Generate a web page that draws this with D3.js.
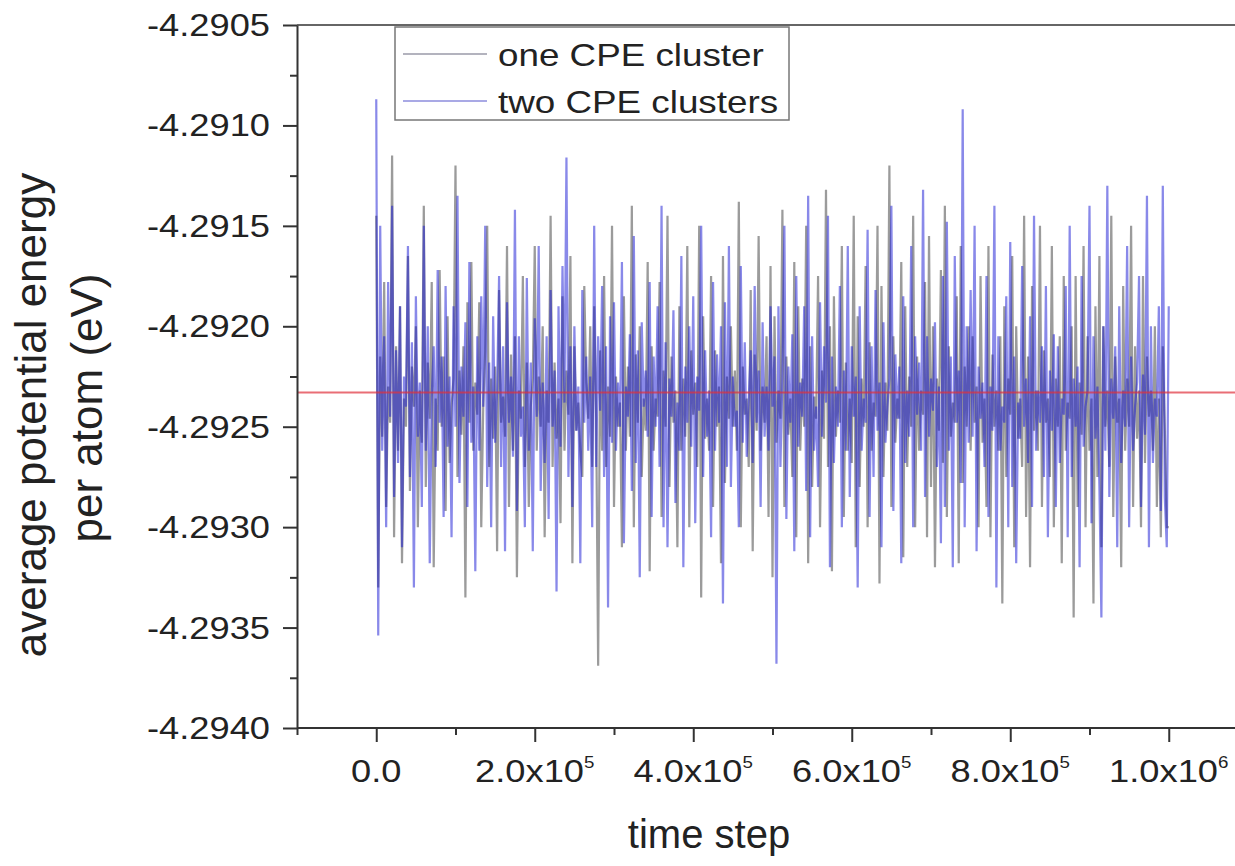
<!DOCTYPE html>
<html>
<head>
<meta charset="utf-8">
<script src="https://cdn.jsdelivr.net/npm/d3@7"></script>
<style>
  body { margin: 0; background: #fff; }
  svg { display: block; font-family: Arial, "Liberation Sans", sans-serif; }
</style>
</head>
<body>
<div id="chart"></div>
<script>
const stepSize = 2500
const timeSteps = d3.range(0, 1000001, stepSize)

const oneCluster = [
  -4.29145, -4.29330, -4.29215, -4.29255, -4.29178, -4.29290, -4.29230, -4.29248, -4.29115, -4.29305,
  -4.29210, -4.29262, -4.29190, -4.29318, -4.29236, -4.29250, -4.29165, -4.29282, -4.29220, -4.29240,
  -4.29200, -4.29300, -4.29232, -4.29258, -4.29140, -4.29280, -4.29218, -4.29246, -4.29178, -4.29320,
  -4.29236, -4.29262, -4.29172, -4.29250, -4.29215, -4.29292, -4.29195, -4.29268, -4.29240, -4.29226,
  -4.29120, -4.29275, -4.29222, -4.29254, -4.29210, -4.29335, -4.29188, -4.29248, -4.29168, -4.29262,
  -4.29228, -4.29244, -4.29188, -4.29300, -4.29240, -4.29212, -4.29150, -4.29270, -4.29226, -4.29256,
  -4.29220, -4.29312, -4.29182, -4.29248, -4.29235, -4.29255, -4.29160, -4.29290, -4.29214, -4.29262,
  -4.29205, -4.29325, -4.29232, -4.29246, -4.29175, -4.29270, -4.29218, -4.29290, -4.29240, -4.29226,
  -4.29160, -4.29262, -4.29225, -4.29250, -4.29200, -4.29305, -4.29232, -4.29248, -4.29145, -4.29270,
  -4.29218, -4.29256, -4.29236, -4.29298, -4.29185, -4.29262, -4.29222, -4.29244, -4.29165, -4.29318,
  -4.29210, -4.29252, -4.29238, -4.29262, -4.29275, -4.29180, -4.29228, -4.29246, -4.29200, -4.29270,
  -4.29190, -4.29245, -4.29369, -4.29212, -4.29262, -4.29175, -4.29270, -4.29230, -4.29255, -4.29150,
  -4.29290, -4.29225, -4.29250, -4.29238, -4.29310, -4.29185, -4.29262, -4.29220, -4.29255, -4.29140,
  -4.29300, -4.29214, -4.29248, -4.29200, -4.29275, -4.29236, -4.29252, -4.29168, -4.29322, -4.29210,
  -4.29262, -4.29236, -4.29245, -4.29178, -4.29295, -4.29222, -4.29250, -4.29145, -4.29280, -4.29215,
  -4.29248, -4.29232, -4.29310, -4.29190, -4.29262, -4.29226, -4.29255, -4.29160, -4.29300, -4.29212,
  -4.29244, -4.29228, -4.29270, -4.29150, -4.29335, -4.29195, -4.29256, -4.29236, -4.29262, -4.29175,
  -4.29290, -4.29212, -4.29250, -4.29230, -4.29318, -4.29165, -4.29278, -4.29225, -4.29246, -4.29200,
  -4.29250, -4.29222, -4.29262, -4.29138, -4.29300, -4.29220, -4.29244, -4.29236, -4.29270, -4.29182,
  -4.29312, -4.29214, -4.29252, -4.29155, -4.29262, -4.29230, -4.29248, -4.29205, -4.29295, -4.29170,
  -4.29325, -4.29195, -4.29258, -4.29232, -4.29246, -4.29142, -4.29290, -4.29215, -4.29254, -4.29236,
  -4.29275, -4.29168, -4.29305, -4.29190, -4.29262, -4.29226, -4.29250, -4.29150, -4.29318, -4.29210,
  -4.29280, -4.29235, -4.29246, -4.29175, -4.29300, -4.29222, -4.29256, -4.29132, -4.29270, -4.29200,
  -4.29322, -4.29185, -4.29255, -4.29232, -4.29248, -4.29160, -4.29295, -4.29218, -4.29262, -4.29236,
  -4.29268, -4.29145, -4.29310, -4.29195, -4.29280, -4.29226, -4.29250, -4.29170, -4.29300, -4.29208,
  -4.29262, -4.29238, -4.29245, -4.29150, -4.29328, -4.29180, -4.29275, -4.29228, -4.29252, -4.29120,
  -4.29290, -4.29205, -4.29258, -4.29236, -4.29246, -4.29168, -4.29315, -4.29190, -4.29270, -4.29225,
  -4.29250, -4.29145, -4.29300, -4.29215, -4.29262, -4.29232, -4.29244, -4.29178, -4.29305, -4.29155,
  -4.29280, -4.29200, -4.29320, -4.29226, -4.29252, -4.29172, -4.29268, -4.29140, -4.29295, -4.29210,
  -4.29255, -4.29238, -4.29248, -4.29185, -4.29318, -4.29160, -4.29278, -4.29220, -4.29250, -4.29200,
  -4.29262, -4.29205, -4.29248, -4.29230, -4.29300, -4.29175, -4.29258, -4.29236, -4.29290, -4.29160,
  -4.29305, -4.29214, -4.29250, -4.29232, -4.29262, -4.29205, -4.29338, -4.29190, -4.29275, -4.29226,
  -4.29244, -4.29165, -4.29310, -4.29200, -4.29256, -4.29236, -4.29270, -4.29145, -4.29295, -4.29215,
  -4.29320, -4.29180, -4.29252, -4.29232, -4.29262, -4.29150, -4.29290, -4.29212, -4.29248, -4.29236,
  -4.29275, -4.29160, -4.29300, -4.29226, -4.29250, -4.29205, -4.29318, -4.29175, -4.29262, -4.29238,
  -4.29246, -4.29200, -4.29345, -4.29175, -4.29290, -4.29228, -4.29254, -4.29160, -4.29300, -4.29205,
  -4.29262, -4.29236, -4.29338, -4.29190, -4.29275, -4.29165, -4.29310, -4.29200, -4.29250, -4.29232,
  -4.29270, -4.29145, -4.29295, -4.29215, -4.29248, -4.29236, -4.29320, -4.29180, -4.29262, -4.29226,
  -4.29250, -4.29150, -4.29290, -4.29210, -4.29256, -4.29232, -4.29300, -4.29175, -4.29268, -4.29215,
  -4.29245, -4.29232, -4.29262, -4.29200, -4.29290, -4.29236, -4.29305, -4.29210, -4.29250, -4.29300,
  -4.29300
]

const twoClusters = [
  -4.29087, -4.29354, -4.29150, -4.29262, -4.29205, -4.29300, -4.29178, -4.29245, -4.29140, -4.29285,
  -4.29212, -4.29268, -4.29190, -4.29310, -4.29225, -4.29240, -4.29160, -4.29275, -4.29208, -4.29330,
  -4.29185, -4.29255, -4.29228, -4.29290, -4.29150, -4.29262, -4.29200, -4.29318, -4.29235, -4.29210,
  -4.29270, -4.29172, -4.29248, -4.29215, -4.29295, -4.29180, -4.29260, -4.29225, -4.29305, -4.29190,
  -4.29250, -4.29135, -4.29278, -4.29220, -4.29245, -4.29198, -4.29290, -4.29168, -4.29258, -4.29230,
  -4.29322, -4.29205, -4.29262, -4.29185, -4.29240, -4.29150, -4.29280, -4.29218, -4.29300, -4.29195,
  -4.29258, -4.29232, -4.29175, -4.29270, -4.29210, -4.29312, -4.29188, -4.29248, -4.29225, -4.29265,
  -4.29142, -4.29292, -4.29205, -4.29255, -4.29240, -4.29300, -4.29176, -4.29262, -4.29218, -4.29312,
  -4.29196, -4.29245, -4.29160, -4.29282, -4.29228, -4.29268, -4.29205, -4.29296, -4.29182, -4.29250,
  -4.29222, -4.29332, -4.29190, -4.29260, -4.29170, -4.29238, -4.29116, -4.29275, -4.29210, -4.29290,
  -4.29200, -4.29252, -4.29230, -4.29318, -4.29182, -4.29248, -4.29215, -4.29262, -4.29225, -4.29300,
  -4.29150, -4.29270, -4.29205, -4.29242, -4.29180, -4.29275, -4.29210, -4.29340, -4.29195, -4.29258,
  -4.29188, -4.29262, -4.29228, -4.29250, -4.29168, -4.29308, -4.29230, -4.29245, -4.29204, -4.29282,
  -4.29155, -4.29268, -4.29212, -4.29325, -4.29198, -4.29240, -4.29222, -4.29255, -4.29178, -4.29295,
  -4.29215, -4.29250, -4.29190, -4.29270, -4.29140, -4.29300, -4.29208, -4.29310, -4.29226, -4.29245,
  -4.29192, -4.29288, -4.29238, -4.29262, -4.29165, -4.29320, -4.29220, -4.29248, -4.29200, -4.29260,
  -4.29185, -4.29298, -4.29225, -4.29242, -4.29150, -4.29275, -4.29212, -4.29255, -4.29232, -4.29305,
  -4.29178, -4.29262, -4.29214, -4.29248, -4.29200, -4.29338, -4.29188, -4.29270, -4.29160, -4.29280,
  -4.29225, -4.29250, -4.29242, -4.29300, -4.29170, -4.29258, -4.29208, -4.29265, -4.29236, -4.29212,
  -4.29268, -4.29180, -4.29248, -4.29222, -4.29290, -4.29198, -4.29255, -4.29230, -4.29262, -4.29190,
  -4.29240, -4.29215, -4.29368, -4.29190, -4.29270, -4.29225, -4.29150, -4.29296, -4.29220, -4.29248,
  -4.29204, -4.29312, -4.29175, -4.29260, -4.29228, -4.29245, -4.29190, -4.29282, -4.29135, -4.29305,
  -4.29205, -4.29262, -4.29240, -4.29280, -4.29188, -4.29255, -4.29210, -4.29238, -4.29145, -4.29320,
  -4.29215, -4.29268, -4.29230, -4.29250, -4.29180, -4.29300, -4.29222, -4.29262, -4.29160, -4.29285,
  -4.29210, -4.29245, -4.29225, -4.29330, -4.29190, -4.29262, -4.29236, -4.29248, -4.29152, -4.29295,
  -4.29210, -4.29275, -4.29182, -4.29252, -4.29228, -4.29310, -4.29198, -4.29258, -4.29240, -4.29226,
  -4.29140, -4.29292, -4.29214, -4.29246, -4.29220, -4.29318, -4.29185, -4.29268, -4.29232, -4.29255,
  -4.29160, -4.29300, -4.29205, -4.29244, -4.29218, -4.29262, -4.29132, -4.29285, -4.29205, -4.29255,
  -4.29226, -4.29242, -4.29198, -4.29270, -4.29230, -4.29308, -4.29175, -4.29290, -4.29148, -4.29262,
  -4.29215, -4.29320, -4.29165, -4.29248, -4.29222, -4.29278, -4.29092, -4.29300, -4.29200, -4.29258,
  -4.29182, -4.29255, -4.29150, -4.29312, -4.29220, -4.29246, -4.29228, -4.29270, -4.29175, -4.29295,
  -4.29230, -4.29252, -4.29140, -4.29330, -4.29205, -4.29262, -4.29240, -4.29248, -4.29185, -4.29300,
  -4.29158, -4.29280, -4.29215, -4.29318, -4.29238, -4.29256, -4.29170, -4.29250, -4.29226, -4.29268,
  -4.29195, -4.29290, -4.29145, -4.29262, -4.29232, -4.29248, -4.29210, -4.29275, -4.29180, -4.29305,
  -4.29222, -4.29252, -4.29204, -4.29290, -4.29210, -4.29268, -4.29236, -4.29244, -4.29180, -4.29305,
  -4.29150, -4.29275, -4.29226, -4.29250, -4.29220, -4.29320, -4.29175, -4.29260, -4.29240, -4.29232,
  -4.29140, -4.29298, -4.29205, -4.29256, -4.29230, -4.29280, -4.29345, -4.29200, -4.29262, -4.29130,
  -4.29285, -4.29226, -4.29246, -4.29210, -4.29310, -4.29190, -4.29268, -4.29232, -4.29250, -4.29160,
  -4.29300, -4.29215, -4.29262, -4.29240, -4.29228, -4.29175, -4.29290, -4.29224, -4.29254, -4.29135,
  -4.29310, -4.29200, -4.29268, -4.29236, -4.29245, -4.29190, -4.29292, -4.29130, -4.29285, -4.29310,
  -4.29190
]

const meanEnergy = -4.29233

const xTicks = [0, 2e5, 4e5, 6e5, 8e5, 1e6]
const xTickMantissa = ["0.0", "2.0x10", "4.0x10", "6.0x10", "8.0x10", "1.0x10"]
const xTickExponent = ["", "5", "5", "5", "5", "6"]
const yTicks = [-4.2940, -4.2935, -4.2930, -4.2925, -4.2920, -4.2915, -4.2910, -4.2905]
const yTickLabels = ["-4.2940", "-4.2935", "-4.2930", "-4.2925", "-4.2920", "-4.2915", "-4.2910", "-4.2905"]

const seriesNames = ["one CPE cluster", "two CPE clusters"]

const width = 1235
const height = 866
const stretch = 1.17   // the labels in the picture are a bit wider than Arial

let svg = d3.select("#chart")
  .append("svg")
  .attr("width", width)
  .attr("height", height)

var x = d3.scaleLinear().domain([-1e5, 1.1e6]).range([297, 1248])
var y = d3.scaleLinear().domain([-4.2940, -4.2905]).range([728, 25])

var axisColor = "#333"

// frame top / right (right side falls outside the picture)
svg.append("path")
  .attr("d", "M" + x(-1e5) + "," + y(-4.2905) + "H" + x(1.1e6) + "V" + y(-4.2940))
  .attr("fill", "none")
  .attr("stroke", "#666")
  .attr("stroke-width", 2)

var line = d3.line()
  .x((d, i) => x(timeSteps[i]))
  .y(d => y(d))

svg.append("path")
  .datum(oneCluster)
  .attr("d", line)
  .attr("fill", "none")
  .attr("stroke", "#111")
  .attr("stroke-opacity", 0.42)
  .attr("stroke-width", 2.2)

svg.append("path")
  .datum(twoClusters)
  .attr("d", line)
  .attr("fill", "none")
  .attr("stroke", "#1414d4")
  .attr("stroke-opacity", 0.5)
  .attr("stroke-width", 2.2)

svg.append("line")
  .attr("x1", x(-1e5))
  .attr("x2", x(1.1e6))
  .attr("y1", y(meanEnergy))
  .attr("y2", y(meanEnergy))
  .attr("stroke", "#e0303c")
  .attr("stroke-opacity", 0.7)
  .attr("stroke-width", 2)

// axes
let xAxis = svg.append("g")
  .attr("transform", "translate(0," + y(-4.2940) + ")")
  .call(d3.axisBottom(x).tickValues(xTicks).tickSize(14).tickSizeOuter(0).tickFormat(""))
let xMinor = svg.append("g")
  .attr("transform", "translate(0," + y(-4.2940) + ")")
  .call(d3.axisBottom(x).tickValues(d3.range(-1e5, 1.05e6, 2e5)).tickSize(7).tickSizeOuter(0).tickFormat(""))

let yAxis = svg.append("g")
  .attr("transform", "translate(" + x(-1e5) + ",0)")
  .call(d3.axisLeft(y).tickValues(yTicks).tickSize(14).tickSizeOuter(0).tickFormat(""))
let yMinor = svg.append("g")
  .attr("transform", "translate(" + x(-1e5) + ",0)")
  .call(d3.axisLeft(y).tickValues(d3.range(-4.29375, -4.2906, 0.0005)).tickSize(7).tickSizeOuter(0).tickFormat(""))

xMinor.select(".domain").remove()
yMinor.select(".domain").remove()
svg.selectAll(".domain, .tick line")
  .attr("stroke", axisColor)
  .attr("stroke-width", 2)

xAxis.select(".domain").attr("d", "M" + x(-1e5) + ",0H" + x(1.1e6))

// tick labels
xTicks.forEach((t, i) => {
  let lbl = svg.append("text")
    .attr("transform", "translate(" + x(t) + ",782) scale(" + stretch + ",1)")
    .attr("text-anchor", "middle")
    .attr("font-size", 31)
    .attr("fill", "#222")
  lbl.append("tspan").text(xTickMantissa[i])
  if (xTickExponent[i]) {
    lbl.append("tspan")
      .attr("font-size", 16)
      .attr("dy", -14)
      .text(xTickExponent[i])
  }
})

yTicks.forEach((v, i) => {
  svg.append("text")
    .attr("transform", "translate(270," + (y(v) + 11) + ") scale(" + stretch + ",1)")
    .attr("text-anchor", "end")
    .attr("font-size", 31)
    .attr("fill", "#222")
    .text(yTickLabels[i])
})

// axis titles
svg.append("text")
  .attr("x", 709)
  .attr("y", 848)
  .attr("text-anchor", "middle")
  .attr("font-size", 40)
  .attr("fill", "#222")
  .text("time step")

svg.append("text")
  .attr("transform", "translate(46,415) rotate(-90)")
  .attr("text-anchor", "middle")
  .attr("font-size", 44)
  .attr("fill", "#222")
  .text("average potential energy")

svg.append("text")
  .attr("transform", "translate(102,408) rotate(-90)")
  .attr("text-anchor", "middle")
  .attr("font-size", 44)
  .attr("fill", "#222")
  .text("per atom (eV)")

// legend
let legend = svg.append("g")

legend.append("rect")
  .attr("x", 395)
  .attr("y", 27)
  .attr("width", 394)
  .attr("height", 93)
  .attr("fill", "#fff")
  .attr("stroke", "#777")
  .attr("stroke-width", 1.5)

var legendColors = ["#9a9aa8", "#8c8cdc"]

seriesNames.forEach((name, i) => {
  var row = legend.append("g")
    .attr("transform", "translate(0," + (i * 47) + ")")

  row.append("line")
    .attr("x1", 403)
    .attr("x2", 487)
    .attr("y1", 54)
    .attr("y2", 54)
    .attr("stroke", legendColors[i])
    .attr("stroke-width", 1.5)

  row.append("text")
    .attr("transform", "translate(498,66) scale(1.15,1)")
    .attr("font-size", 32)
    .attr("fill", "#222")
    .text(name)
})
</script>
</body>
</html>
